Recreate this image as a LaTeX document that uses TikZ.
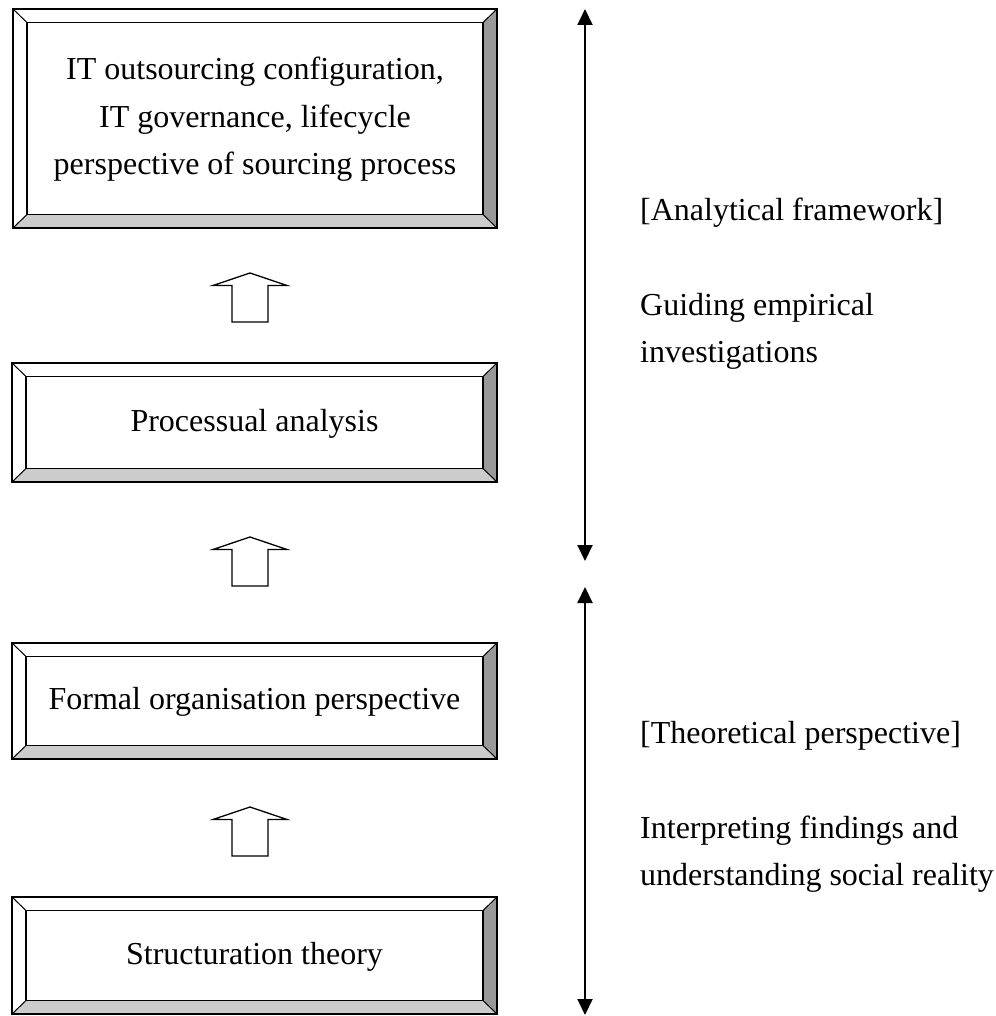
\documentclass[tikz,border=0pt]{standalone}
\usepackage{fontspec}
\setmainfont{Liberation Serif}
\usetikzlibrary{arrows.meta}
\definecolor{bevR}{HTML}{999999}
\definecolor{bevB}{HTML}{CCCCCC}
\tikzset{
  boxtext/.style={font=\fontsize{32}{47.5}\selectfont, align=center, inner sep=0pt},
  sidetext/.style={font=\fontsize{32}{47.5}\selectfont, anchor=base west, inner sep=0pt},
  edgeline/.style={line width=1.8pt},
  diagline/.style={line width=1pt},
  blockarrow/.style={draw, fill=white, line width=1.3pt, line join=miter},
  dblarrow/.style={line width=2pt, {Triangle[length=16pt,width=15pt]}-{Triangle[length=16pt,width=15pt]}}
}
% \bevbox{name}{X1}{Y1}{X2}{Y2}{text}
\newcommand{\bevbox}[6]{%
  \pgfmathsetmacro{\ax}{#2+14}\pgfmathsetmacro{\ay}{#3+13.5}%
  \pgfmathsetmacro{\bx}{#4-14}\pgfmathsetmacro{\by}{#5-13.5}%
  \fill[white] (#2,#3) -- (#4,#3) -- (\bx,\ay) -- (\ax,\ay) -- cycle;
  \fill[white] (#2,#3) -- (\ax,\ay) -- (\ax,\by) -- (#2,#5) -- cycle;
  \fill[bevR] (#4,#3) -- (#4,#5) -- (\bx,\by) -- (\bx,\ay) -- cycle;
  \fill[bevB] (#2,#5) -- (#4,#5) -- (\bx,\by) -- (\ax,\by) -- cycle;
  \draw[diagline] (#2,#3) -- (\ax,\ay) (#4,#3) -- (\bx,\ay) (#4,#5) -- (\bx,\by) (#2,#5) -- (\ax,\by);
  \draw[edgeline] (\ax,\ay) rectangle (\bx,\by);
  \draw[edgeline] (#2,#3) rectangle (#4,#5);
  \node[boxtext] (#1) at ({(#2+#4)/2},{(#3+#5)/2+1}) {#6};
}
% \blockup{name}{tipY}
\newcommand{\blockup}[2]{%
  \coordinate (#1) at (250,#2);
  \draw[blockarrow] (#1) -- ++(37,12.5) -- ++(-19,0) -- ++(0,36.5) -- ++(-36,0) -- ++(0,-36.5) -- ++(-19,0) -- cycle;
}
\begin{document}
\begin{tikzpicture}[x=1pt,y=-1pt]
\useasboundingbox (0,0) rectangle (995,1016);
\bevbox{top}{13}{9}{497}{228}{IT outsourcing configuration,\\IT governance, lifecycle\\perspective of sourcing process}
\bevbox{proc}{12}{363}{497}{482}{Processual analysis}
\bevbox{formal}{12}{643}{497}{759}{Formal organisation perspective}
\bevbox{struct}{12}{897}{497}{1014}{Structuration theory}
\blockup{ba1}{273}
\blockup{ba2}{537}
\blockup{ba3}{807}
\coordinate (u1) at (585,9);
\coordinate (u2) at (585,561);
\coordinate (l1) at (585,587);
\coordinate (l2) at (585,1015);
\draw[dblarrow] (u1) -- (u2);
\draw[dblarrow] (l1) -- (l2);
\node[sidetext] (af) at (640,221) {[Analytical framework]};
\node[sidetext] (ge1) at (640,315) {Guiding empirical};
\node[sidetext] (ge2) at (640,362) {investigations};
\node[sidetext] (tp) at (640,743) {[Theoretical perspective]};
\node[sidetext] (if1) at (640,838) {Interpreting findings and};
\node[sidetext] (if2) at (640,885) {understanding social reality};
\end{tikzpicture}
\end{document}
